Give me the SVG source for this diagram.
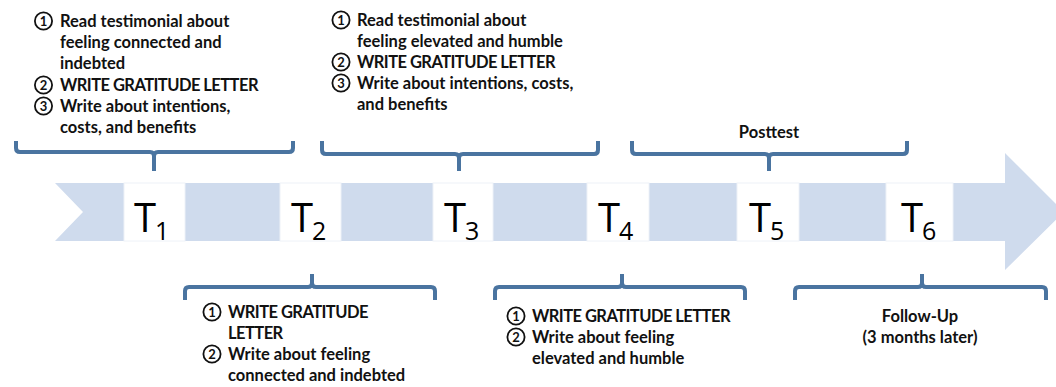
<svg xmlns="http://www.w3.org/2000/svg" width="1056" height="387" viewBox="0 0 1056 387">
<style>
.t{font-family:Lato,"Liberation Sans",sans-serif;font-weight:bold;font-size:16.5px;fill:#111}
.caps{letter-spacing:-0.55px}
.cc{fill:none;stroke:#111;stroke-width:1.8}
.cd{font-family:Lato,"Liberation Sans",sans-serif;font-weight:bold;font-size:13px;fill:#111;text-anchor:middle}
.big{font-family:"Open Sans","Liberation Sans",sans-serif;font-size:40px;fill:#000}
.sub{font-family:"Open Sans","Liberation Sans",sans-serif;font-size:25px;fill:#000}
.br{fill:none;stroke:#4a74a0;stroke-width:4;stroke-linejoin:round;stroke-linecap:butt}
.box{fill:#fff;stroke:#eef2f8;stroke-width:1}
.mid{text-anchor:middle}
</style>
<rect width="1056" height="387" fill="#fff"/>
<g id="timeline">
<path d="M55,183 H1005 V153 L1064,212 L1005,270 V241 H55 L83,212 Z" fill="#cfdbed"/>
</g>
<g id="T1"><rect class="box" x="124" y="183" width="61" height="58"/><text class="big" x="134" y="232">T</text><text class="sub" x="155" y="240">1</text></g>
<g id="T2"><rect class="box" x="280" y="183" width="61" height="58"/><text class="big" x="291" y="232">T</text><text class="sub" x="312" y="240">2</text></g>
<g id="T3"><rect class="box" x="433" y="183" width="60" height="58"/><text class="big" x="444" y="232">T</text><text class="sub" x="465" y="240">3</text></g>
<g id="T4"><rect class="box" x="587" y="183" width="62" height="58"/><text class="big" x="598" y="232">T</text><text class="sub" x="619" y="240">4</text></g>
<g id="T5"><rect class="box" x="737" y="183" width="62" height="58"/><text class="big" x="749" y="232">T</text><text class="sub" x="770" y="240">5</text></g>
<g id="T6"><rect class="box" x="886" y="183" width="67" height="58"/><text class="big" x="901" y="232">T</text><text class="sub" x="922" y="240">6</text></g>
<g id="connectors">
<path class="br" d="M16,141 V148 Q16,152 20,152 H150 Q154,152 154,156 V171 M154,156 Q154,152 158,152 H289 Q293,152 293,148 V141"/>
<path class="br" d="M322,141 V150 Q322,154 326,154 H455 Q459,154 459,158 V171 M459,158 Q459,154 463,154 H594 Q598,154 598,150 V141"/>
<path class="br" d="M632,141 V150 Q632,154 636,154 H765 Q769,154 769,158 V171 M769,158 Q769,154 773,154 H903 Q907,154 907,150 V141"/>
<path class="br" d="M312,274 V283 Q312,287 308,287 H189 Q185,287 185,291 V300 M312,283 Q312,287 316,287 H431 Q435,287 435,291 V300"/>
<path class="br" d="M622,274 V283 Q622,287 618,287 H499 Q495,287 495,291 V300 M622,283 Q622,287 626,287 H741 Q745,287 745,291 V300"/>
<path class="br" d="M922,274 V283 Q922,287 918,287 H799 Q795,287 795,291 V300 M922,283 Q922,287 926,287 H1042 Q1046,287 1046,291 V300"/>
</g>
<g id="note1">
<circle class="cc" cx="43.5" cy="21" r="8.6"/><text class="cd" x="43.5" y="25.6">1</text>
<circle class="cc" cx="43.5" cy="85" r="8.6"/><text class="cd" x="43.5" y="89.6">2</text>
<circle class="cc" cx="43.5" cy="106" r="8.6"/><text class="cd" x="43.5" y="110.6">3</text>
<text class="t" x="60" y="27">Read testimonial about</text>
<text class="t" x="60" y="48">feeling connected and</text>
<text class="t" x="60" y="69">indebted</text>
<text class="t caps" x="60" y="91">WRITE GRATITUDE LETTER</text>
<text class="t" x="60" y="112">Write about intentions,</text>
<text class="t" x="60" y="133">costs, and benefits</text>
</g>
<g id="note2">
<circle class="cc" cx="341" cy="20" r="8.6"/><text class="cd" x="341" y="24.6">1</text>
<circle class="cc" cx="341" cy="62" r="8.6"/><text class="cd" x="341" y="66.6">2</text>
<circle class="cc" cx="341" cy="83" r="8.6"/><text class="cd" x="341" y="87.6">3</text>
<text class="t" x="357" y="26">Read testimonial about</text>
<text class="t" x="357" y="47">feeling elevated and humble</text>
<text class="t caps" x="357" y="68">WRITE GRATITUDE LETTER</text>
<text class="t" x="357" y="89">Write about intentions, costs,</text>
<text class="t" x="357" y="110">and benefits</text>
</g>
<g id="note3">
<text class="t mid" x="769" y="138">Posttest</text>
</g>
<g id="note4">
<circle class="cc" cx="212" cy="312" r="8.6"/><text class="cd" x="212" y="316.6">1</text>
<circle class="cc" cx="212" cy="354" r="8.6"/><text class="cd" x="212" y="358.6">2</text>
<text class="t caps" x="228" y="318">WRITE GRATITUDE</text>
<text class="t caps" x="228" y="339">LETTER</text>
<text class="t" x="228" y="360">Write about feeling</text>
<text class="t" x="228" y="381">connected and indebted</text>
</g>
<g id="note5">
<circle class="cc" cx="516" cy="316" r="8.6"/><text class="cd" x="516" y="320.6">1</text>
<circle class="cc" cx="516" cy="337" r="8.6"/><text class="cd" x="516" y="341.6">2</text>
<text class="t caps" x="532" y="322">WRITE GRATITUDE LETTER</text>
<text class="t" x="532" y="343">Write about feeling</text>
<text class="t" x="532" y="364">elevated and humble</text>
</g>
<g id="note6">
<text class="t mid" x="920" y="322">Follow-Up</text>
<text class="t mid" x="920" y="343">(3 months later)</text>
</g>
</svg>
